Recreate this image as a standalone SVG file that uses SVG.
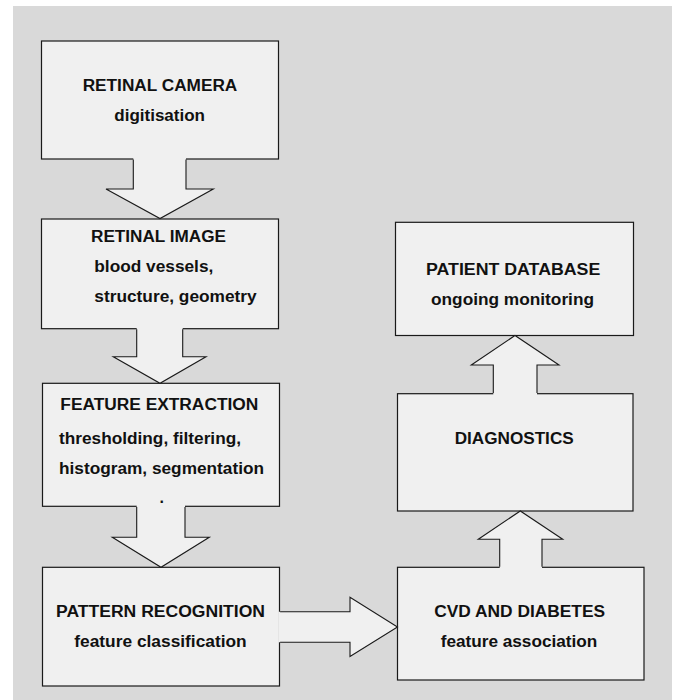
<svg xmlns="http://www.w3.org/2000/svg" width="675" height="700" viewBox="0 0 675 700">
<style>
.bg{fill:#d9d9d9}
.box{fill:#f0f0f0;stroke:#1a1a1a;stroke-width:1.2}
.af{fill:#f0f0f0;stroke:none}
.as{fill:none;stroke:#1a1a1a;stroke-width:1.1;stroke-linejoin:miter}
text{font-family:"Liberation Sans",Arial,sans-serif;font-weight:bold;font-size:16px;fill:#111}
</style>
<rect x="0" y="0" width="675" height="700" fill="#ffffff"/>
<rect class="bg" x="13" y="6" width="659" height="694"/>
<g id="retinal-camera">
<rect class="box" x="41.5" y="41" width="237" height="118"/>
<text x="82.7" y="90.7" textLength="154.6" lengthAdjust="spacingAndGlyphs">RETINAL CAMERA</text>
<text x="114.3" y="120.7" textLength="90.7" lengthAdjust="spacingAndGlyphs">digitisation</text>
</g>
<g id="retinal-image">
<rect class="box" x="41.5" y="219" width="237" height="109.7"/>
<text x="91" y="241.7" textLength="135" lengthAdjust="spacingAndGlyphs">RETINAL IMAGE</text>
<text x="94.3" y="271.7" textLength="119" lengthAdjust="spacingAndGlyphs">blood vessels,</text>
<text x="94.3" y="301.7" textLength="162.4" lengthAdjust="spacingAndGlyphs">structure, geometry</text>
</g>
<g id="feature-extraction">
<rect class="box" x="42.5" y="383.3" width="237" height="123"/>
<text x="60.3" y="410" textLength="198" lengthAdjust="spacingAndGlyphs">FEATURE EXTRACTION</text>
<text x="59" y="444" textLength="182" lengthAdjust="spacingAndGlyphs">thresholding, filtering,</text>
<text x="59" y="474.3" textLength="205" lengthAdjust="spacingAndGlyphs">histogram, segmentation</text>
<text x="159.5" y="502.7">.</text>
</g>
<g id="pattern-recognition">
<rect class="box" x="42.5" y="567.3" width="237" height="118.7"/>
<text x="56" y="616.7" textLength="209" lengthAdjust="spacingAndGlyphs">PATTERN RECOGNITION</text>
<text x="74.3" y="647.3" textLength="172.4" lengthAdjust="spacingAndGlyphs">feature classification</text>
</g>
<g id="cvd-diabetes">
<rect class="box" x="397.5" y="567.3" width="246.5" height="112.7"/>
<text x="434.3" y="616.7" textLength="170.7" lengthAdjust="spacingAndGlyphs">CVD AND DIABETES</text>
<text x="440.7" y="646.7" textLength="156.6" lengthAdjust="spacingAndGlyphs">feature association</text>
</g>
<g id="diagnostics">
<rect class="box" x="397.5" y="393.7" width="235.5" height="117.3"/>
<text x="454.7" y="444" textLength="119" lengthAdjust="spacingAndGlyphs">DIAGNOSTICS</text>
</g>
<g id="patient-database">
<rect class="box" x="395.5" y="222.3" width="238" height="113.2"/>
<text x="426" y="275" textLength="174.3" lengthAdjust="spacingAndGlyphs">PATIENT DATABASE</text>
<text x="431" y="305" textLength="163" lengthAdjust="spacingAndGlyphs">ongoing monitoring</text>
</g>
<g id="connectors">
<polygon class="af" points="133.3,158 133.3,189 106,189 160,218.5 213.3,189 186,189 186,158"/>
<polyline class="as" points="133.3,159.6 133.3,189 106,189 160,218.5 213.3,189 186,189 186,159.6"/>
<polygon class="af" points="136.7,327.5 136.7,356.7 113.3,356.7 160,383.3 206,356.7 182.7,356.7 182.7,327.5"/>
<polyline class="as" points="136.7,329.3 136.7,356.7 113.3,356.7 160,383.3 206,356.7 182.7,356.7 182.7,329.3"/>
<polygon class="af" points="136.7,505 136.7,537.3 112.3,537.3 161,567.3 209.3,537.3 185,537.3 185,505"/>
<polyline class="as" points="136.7,506.9 136.7,537.3 112.3,537.3 161,567.3 209.3,537.3 185,537.3 185,506.9"/>
<polygon class="af" points="278.5,611.7 350,611.7 350,597.3 397.5,627 350,656.5 350,642.3 278.5,642.3"/>
<polyline class="as" points="280.1,611.7 350,611.7 350,597.3 397.5,627 350,656.5 350,642.3 280.1,642.3"/>
<polygon class="af" points="499.7,568.5 499.7,539.3 478.3,539.3 520.3,511 562.7,539.3 542,539.3 542,568.5"/>
<polyline class="as" points="499.7,566.7 499.7,539.3 478.3,539.3 520.3,511 562.7,539.3 542,539.3 542,566.7"/>
<polygon class="af" points="493.3,395 493.3,365 471.3,365 515,335.5 559,365 537,365 537,395"/>
<polyline class="as" points="493.3,393.1 493.3,365 471.3,365 515,335.5 559,365 537,365 537,393.1"/>
</g>
</svg>
